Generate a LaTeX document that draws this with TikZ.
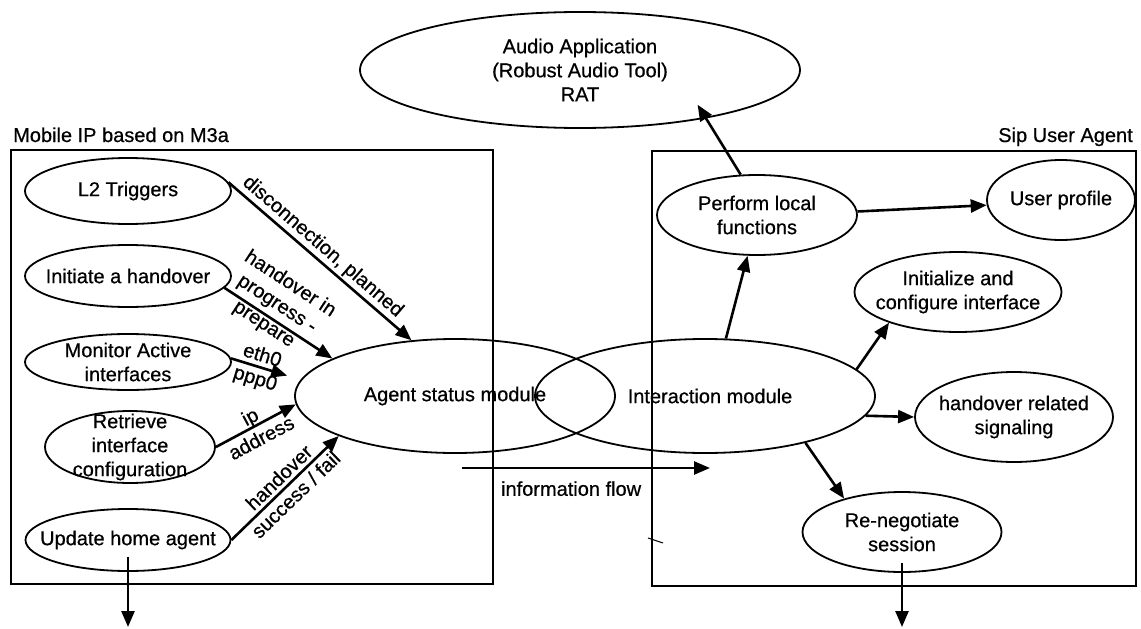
\documentclass[tikz,border=0pt]{standalone}
\usepackage{fontspec}
\setmainfont{Liberation Sans}
\newfontfamily\diagramfont{Liberation Sans}[FakeBold=0.6]
\usetikzlibrary{arrows.meta,shapes.geometric,calc}

% an outlined ellipse with its own (named) centred text node
\newcommand\ovalnode[5]{%
  \node[oval, minimum width=#3pt, minimum height=#4pt] (#1) at (#2) {};
  \node[txt] (#1-text) at (#1.center) {#5};}

\begin{document}
\begin{tikzpicture}[x=1pt,y=-1pt,
  font=\diagramfont\fontsize{20}{24}\selectfont,
  oval/.style={draw, ellipse, inner sep=0pt, line width=1.8pt},
  txt/.style={align=center, inner sep=0pt},
  frame/.style={draw, line width=2pt},
  flow/.style={line width=2.6pt, -{Triangle[length=16pt,width=13pt]}},
  lbl/.style={sloped, align=center, inner sep=0pt, anchor=center},
  boxtitle/.style={inner sep=0pt}
]
\useasboundingbox (0,0) rectangle (1141,629);

% the two component frames
\node[frame, anchor=north west, minimum width=482pt, minimum height=434pt, inner sep=0pt] (mip) at (10,149) {};
\node[frame, anchor=north west, minimum width=484pt, minimum height=435pt, inner sep=0pt] (sip) at (651,150) {};
\node[boxtitle, anchor=base west] (mip-title) at (13,142) {Mobile IP based on M3a};
\node[boxtitle, anchor=base east] (sip-title) at (1133,142) {Sip User Agent};

% application on top
\ovalnode{au}{580,70}{440}{116}{Audio Application\\(Robust Audio Tool)\\RAT}

% Mobile IP side
\ovalnode{l2}{128,191}{206}{66}{L2 Triggers}
\ovalnode{ih}{128,276}{206}{62}{Initiate a handover}
\ovalnode{ma}{128,362}{206}{56}{Monitor Active\\interfaces}
\ovalnode{ri}{130,447}{170}{72}{Retrieve\\interface\\configuration}
\ovalnode{uh}{128,540}{205}{62}{Update home agent}

% central modules
\ovalnode{as}{455,396}{320}{114}{Agent status module}
\ovalnode{im}{705,396}{340}{114}{\hspace{10pt}Interaction module}

% SIP user agent side
\ovalnode{pl}{757,215}{200}{80}{Perform local\\functions}
\ovalnode{up}{1061,200}{148}{80}{User profile}
\ovalnode{ic}{958,292}{207}{80}{Initialize and\\configure interface}
\ovalnode{hs}{1014,417}{198}{90}{handover related\\signaling}
\ovalnode{rn}{902,532}{199}{80}{Re-negotiate\\session}

% triggers into the agent status module
\draw[flow] (l2.5) -- node[lbl, pos=0.47, above=2pt] {disconnection, planned} (as.128);
\draw[flow] (ih.-7) -- node[lbl, pos=0.41, yshift=15pt] {handover in\\progress -\\prepare} (as.163);
\draw[flow, shorten >=14pt] (ma.2) -- node[lbl, pos=0.4, yshift=-1pt] {eth0\\ppp0} (as.174);
\draw[flow] (ri.east) -- node[lbl, pos=0.49, yshift=-1pt] {ip\\address} (as.183);
\draw[flow] (uh.east) -- node[lbl, pos=0.52] {handover\\success / fail} (as.199);

% information flow between the modules
\coordinate (flow-a) at (462,468);
\coordinate (flow-b) at (710,468);
\draw[flow] (flow-a) -- node[pos=0.44, below=12pt, inner sep=0pt] (flow-label) {information flow} (flow-b);

% interaction module outputs
\draw[flow] (im.70) -- (pl.257);
\draw[flow] (pl.2) -- (up.184);
\draw[flow, shorten >=-16pt] (pl.112) -- (au.-21);
\draw[flow] (im.10) -- (ic.204);
\draw[flow] (im.-7) -- (hs.west);
\draw[flow] (im.-25) -- (rn.150);

% outgoing signalling at the bottom
\coordinate (uh-out) at (127,627);
\coordinate (rn-out) at (903,627);
\draw[flow] ([yshift=15pt]uh.south) -- (uh.south |- uh-out);
\draw[flow] ([yshift=10pt]rn.south) -- (rn.south |- rn-out);

% small stroke across the right frame
\draw[line width=1pt] (648,538) -- (663,543);
\end{tikzpicture}
\end{document}
